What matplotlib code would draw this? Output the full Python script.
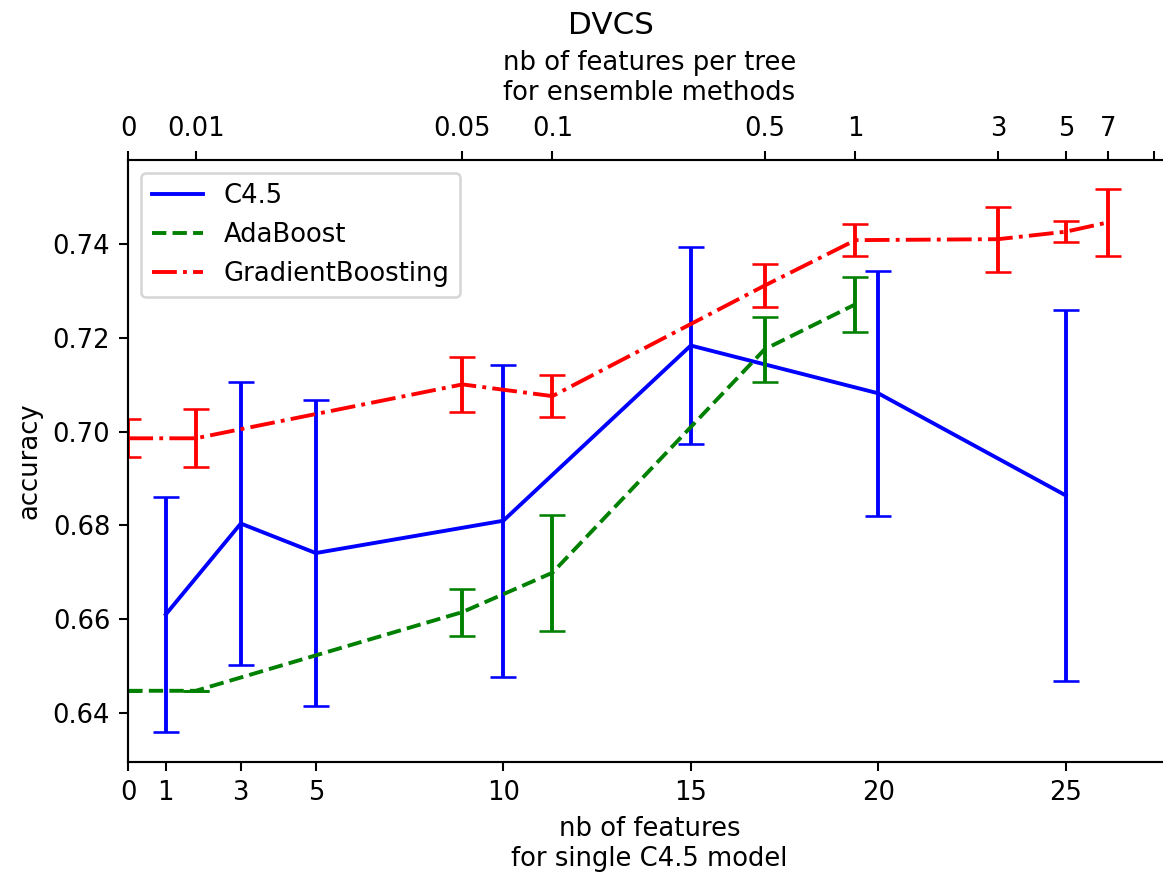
import matplotlib
matplotlib.use('Agg')
import matplotlib.pyplot as plt

# single C4.5 model: x = nb of features
c45_x = [1, 3, 5, 10, 15, 20, 25]
c45_acc = [0.6610, 0.6804, 0.6741, 0.6810, 0.7184, 0.7082, 0.6864]
c45_err = [0.0251, 0.0302, 0.0326, 0.0333, 0.0210, 0.0262, 0.0396]

# ensemble methods: x = nb of features per tree (placed on the top axis)
top_tick_pos = [0, 1.80, 8.91, 11.31, 16.97, 19.39, 23.19, 25.0, 26.13, 27.35]
top_tick_labels = ['0', '0.01', '0.05', '0.1', '0.5', '1', '3', '5', '7', '']

ada_x = top_tick_pos[:6]
ada_acc = [0.6447, 0.6447, 0.6615, 0.6699, 0.7176, 0.7272]
ada_err = [0.0, 0.0, 0.0050, 0.0124, 0.0069, 0.0059]

gb_x = top_tick_pos[:9]
gb_acc = [0.6986, 0.6986, 0.7101, 0.7076, 0.7312, 0.7409, 0.7411, 0.7427, 0.7447]
gb_err = [0.0041, 0.0062, 0.0058, 0.0045, 0.0046, 0.0034, 0.0069, 0.0022, 0.0072]

bottom_ticks = [0, 1, 3, 5, 10, 15, 20, 25]

dpi = 186
fig = plt.figure(figsize=(1163 / dpi, 873 / dpi), dpi=dpi)
ax = fig.add_axes([0.1103, 0.1277, 0.8964, 0.6890])

series = [
    (c45_x, c45_acc, c45_err, 'b', '-', 'C4.5'),
    (ada_x, ada_acc, ada_err, 'g', '--', 'AdaBoost'),
    (gb_x, gb_acc, gb_err, 'r', '-.', 'GradientBoosting'),
]
for xs, ys, errs, col, ls, name in series:
    ax.plot(xs, ys, color=col, linestyle=ls, label=name)
    ax.errorbar(xs, ys, yerr=errs, fmt='none', ecolor=col, capsize=5)

ax.set_xlim(0, 27.8)
ax.set_ylim(0.6296, 0.7580)
ax.set_xticks(bottom_ticks)
ax.set_xlabel('nb of features\nfor single C4.5 model')
ax.set_ylabel('accuracy')
ax.legend(loc='upper left')

ax2 = ax.twiny()
ax2.set_xlim(ax.get_xlim())
ax2.set_xticks(top_tick_pos)
ax2.set_xticklabels(top_tick_labels)
ax2.set_xlabel('nb of features per tree\nfor ensemble methods', labelpad=6)

# figure title sits left of the axes centre (the original figure was wider)
fig.suptitle('DVCS', x=611 / 1163, y=1 - 25 / 873, va='center', fontsize=12)

fig.savefig('out.png', dpi=dpi)
